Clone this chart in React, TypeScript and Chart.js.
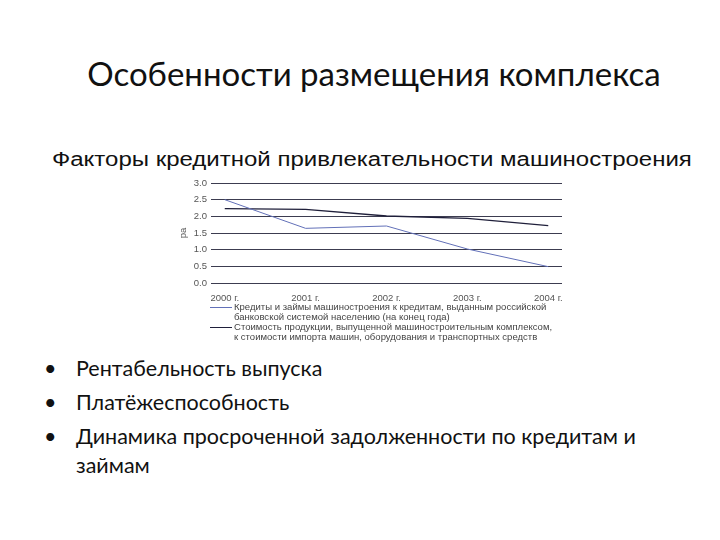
import React, { useEffect, useRef } from "react";
import { Chart, registerables } from "chart.js";

Chart.register(...registerables);

const slideTitle = "Особенности размещения комплекса";
const chartTitle = "Факторы кредитной привлекательности машиностроения";
const categories = ["2000 г.", "2001 г.", "2002 г.", "2003 г.", "2004 г."];
const loansRatio = [2.5, 1.64, 1.71, 1.02, 0.49];
const outputRatio = [2.23, 2.21, 2.01, 1.94, 1.72];
const yTicks = [0, 0.5, 1, 1.5, 2, 2.5, 3];
const yTitle = "ра";
const legendLabels = [
  ["Кредиты и займы машиностроения к кредитам, выданным российской", "банковской системой населению (на конец года)"],
  ["Стоимость продукции, выпущенной машиностроительным комплексом,", "к стоимости импорта машин, оборудования и транспортных средств"],
];
const seriesColors = ["#6270b8", "#1f1f3a"];
const bullets = [
  "Рентабельность выпуска",
  "Платёжеспособность",
  "Динамика просроченной задолженности по кредитам и займам",
];

export default function App() {
  const ref = useRef<HTMLCanvasElement>(null);
  useEffect(() => {
    const canvas = ref.current!;
    const chart = new Chart(canvas, {
      type: "line",
      data: {
        datasets: [
          {
            label: legendLabels[0].join(" "),
            data: loansRatio.map((v, i) => ({ x: i, y: v })),
            borderColor: seriesColors[0],
            borderWidth: 1,
            pointRadius: 0,
            tension: 0,
          },
          {
            label: legendLabels[1].join(" "),
            data: outputRatio.map((v, i) => ({ x: i, y: v })),
            borderColor: seriesColors[1],
            borderWidth: 1.3,
            pointRadius: 0,
            tension: 0,
          },
        ],
      },
      options: {
        animation: false,
        responsive: false,
        maintainAspectRatio: false,
        layout: { padding: { top: 11, right: 18, left: 8, bottom: 0 } },
        plugins: { legend: { display: false }, tooltip: { enabled: false }, title: { display: false } },
        scales: {
          x: {
            type: "linear",
            min: -0.17,
            max: 4.17,
            afterBuildTicks: (s: any) => {
              s.ticks = categories.map((_, i) => ({ value: i }));
            },
            ticks: {
              autoSkip: false,
              maxRotation: 0,
              padding: 2,
              color: "#555",
              font: { family: "Liberation Sans", size: 9.5 },
              callback: (v: any) => categories[Math.round(Number(v))] ?? "",
            },
            grid: { display: false },
            border: { display: false },
            afterFit: (s: any) => {
              s.height = 22;
            },
          },
          y: {
            min: 0,
            max: 3,
            afterBuildTicks: (s: any) => {
              s.ticks = yTicks.map((v) => ({ value: v }));
            },
            ticks: {
              padding: 4,
              color: "#555",
              font: { family: "Liberation Sans", size: 9.5 },
              callback: (v: any) => Number(v).toFixed(1),
            },
            grid: { color: "#3c3c50", lineWidth: 1, drawTicks: false },
            border: { display: false },
            title: {
              display: true,
              text: yTitle,
              color: "#555",
              font: { family: "Liberation Sans", size: 9.5 },
              padding: { top: 0, bottom: 0 },
            },
            afterFit: (s: any) => {
              s.width = 33;
            },
          },
        },
      },
    });
    return () => chart.destroy();
  }, []);

  const calibri = "Lato, 'Open Sans', sans-serif";
  return (
    <div style={{ position: "absolute", left: 0, top: 0, width: 720, height: 540, background: "#fff", overflow: "hidden" }}>
      <div
        style={{
          position: "absolute",
          left: 0,
          width: 748,
          top: 53,
          textAlign: "center",
          fontFamily: calibri,
          fontSize: 33,
          color: "#111",
          whiteSpace: "nowrap",
        }}
      >
        {slideTitle}
      </div>
      <div
        style={{
          position: "absolute",
          left: 52,
          top: 148,
          fontFamily: "'Liberation Sans', Arial, sans-serif",
          fontSize: 20,
          color: "#111",
          whiteSpace: "nowrap",
          transform: "scaleX(1.2)",
          transformOrigin: "0 0",
        }}
      >
        {chartTitle}
      </div>
      <canvas ref={ref} width={410} height={133} style={{ position: "absolute", left: 170, top: 172, width: 410, height: 133 }} />
      <div style={{ position: "absolute", left: 210, top: 302, fontFamily: "'Liberation Sans', sans-serif", fontSize: 9, color: "#444", lineHeight: "10px" }}>
        {legendLabels.map((lines, i) => (
          <div key={i} style={{ display: "flex" }}>
            <div style={{ width: 22, marginRight: 2, position: "relative" }}>
              <div style={{ position: "absolute", top: 5, left: 0, width: 22, height: 1, background: seriesColors[i] }} />
            </div>
            <div style={{ transform: "scaleX(1.06)", transformOrigin: "0 0" }}>
              {lines.map((l, j) => (
                <div key={j} style={{ whiteSpace: "nowrap" }}>{l}</div>
              ))}
            </div>
          </div>
        ))}
      </div>
      <div style={{ position: "absolute", left: 40, top: 354, width: 640, fontFamily: calibri, fontSize: 21.5, color: "#111" }}>
        {bullets.map((b, i) => (
          <div key={i} style={{ display: "flex", lineHeight: "29px", marginBottom: 5 }}>
            <div style={{ width: 32, paddingLeft: 4 }}>•</div>
            <div style={{ width: 570 }}>{b}</div>
          </div>
        ))}
      </div>
    </div>
  );
}
